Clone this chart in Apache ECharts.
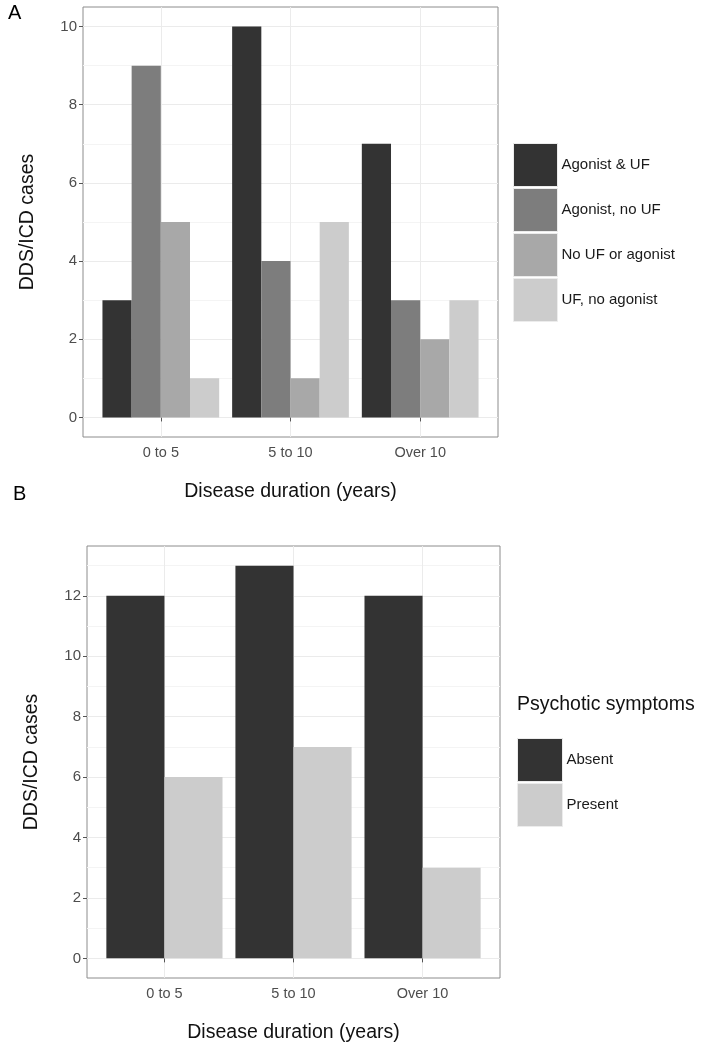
<!DOCTYPE html>
<html>
<head>
<meta charset="utf-8">
<script src="https://cdn.jsdelivr.net/npm/echarts@6/dist/echarts.min.js"></script>
<style>
  html, body { margin: 0; padding: 0; background: #fff; }
  #chart { width: 703px; height: 1050px; }
</style>
</head>
<body>
<div id="chart"></div>
<script>
// categories and values
var durations = ["0 to 5", "5 to 10", "Over 10"];

// panel A: treatment groups
var groupsA = ["Agonist & UF", "Agonist, no UF", "No UF or agonist", "UF, no agonist"];
var valuesA = [
    [3, 10, 7],
    [9, 4, 3],
    [5, 1, 2],
    [1, 5, 3]
];
var coloursA = ["#333333", "#7d7d7d", "#a8a8a8", "#cccccc"];

// panel B: psychotic symptoms
var groupsB = ["Absent", "Present"];
var valuesB = [
    [12, 13, 12],
    [6, 7, 3]
];
var coloursB = ["#333333", "#cccccc"];

var ticksA = [0, 2, 4, 6, 8, 10];
var minorA = [1, 3, 5, 7, 9];
var ticksB = [0, 2, 4, 6, 8, 10, 12];
var minorB = [1, 3, 5, 7, 9, 11, 13];
var xTicks = [1, 2, 3];

var font = "Liberation Sans, Arial, sans-serif";
var gridLine = "#ebebeb";
var minorLine = "#f4f4f4";

function xAxisFor(gridIndex) {
    return {
        type: "value",
        gridIndex: gridIndex,
        min: 0.4,
        max: 3.6,
        name: "Disease duration (years)",
        nameLocation: "middle",
        nameGap: 45,
        nameTextStyle: { fontSize: 19.5, color: "#111", fontFamily: font },
        axisLine: { show: false },
        axisTick: { show: true, customValues: xTicks, length: 4, lineStyle: { color: "#555" } },
        axisLabel: {
            customValues: xTicks,
            margin: 8,
            fontSize: 14.5,
            color: "#4d4d4d",
            fontFamily: font,
            formatter: function (v) { return durations[Math.round(v) - 1]; }
        },
        splitLine: { show: true, lineStyle: { color: gridLine, width: 1 } }
    };
}

function yAxisFor(gridIndex, lo, hi, ticks) {
    return {
        type: "value",
        gridIndex: gridIndex,
        min: lo,
        max: hi,
        name: "DDS/ICD cases",
        nameLocation: "middle",
        nameGap: 45,
        nameTextStyle: { fontSize: 19.5, color: "#111", fontFamily: font },
        axisLine: { show: false },
        axisTick: { show: true, customValues: ticks, length: 4, lineStyle: { color: "#555" } },
        axisLabel: { customValues: ticks, margin: 6, fontSize: 15, color: "#4d4d4d", fontFamily: font },
        splitLine: { show: true, lineStyle: { color: gridLine, width: 1 } }
    };
}

// extra hidden y axis that only draws the lighter minor grid lines
function minorAxisFor(gridIndex, lo, hi, ticks) {
    return {
        type: "value",
        gridIndex: gridIndex,
        min: lo,
        max: hi,
        axisLine: { show: false },
        axisTick: { show: false, customValues: ticks },
        axisLabel: { show: false, customValues: ticks },
        splitLine: { show: true, lineStyle: { color: minorLine, width: 1 } }
    };
}

var series = [];
groupsA.forEach(function (name, i) {
    series.push({
        name: name,
        type: "bar",
        xAxisIndex: 0,
        yAxisIndex: 0,
        barWidth: "22.5%",
        barGap: "0%",
        itemStyle: { color: coloursA[i] },
        data: durations.map(function (d, j) { return [j + 1, valuesA[i][j]]; })
    });
});
groupsB.forEach(function (name, i) {
    series.push({
        name: name,
        type: "bar",
        xAxisIndex: 1,
        yAxisIndex: 1,
        barWidth: "45%",
        barGap: "0%",
        itemStyle: { color: coloursB[i] },
        data: durations.map(function (d, j) { return [j + 1, valuesB[i][j]]; })
    });
});

var chart = echarts.init(document.getElementById("chart"), null, { renderer: "canvas" });
var option = {
    backgroundColor: "#fff",
    animation: false,
    title: [
        { text: "A", left: 8, top: 3, padding: 0, textStyle: { fontSize: 20, fontWeight: "normal", color: "#000", fontFamily: font } },
        { text: "B", left: 13, top: 484, padding: 0, textStyle: { fontSize: 20, fontWeight: "normal", color: "#000", fontFamily: font } },
        { text: "Psychotic symptoms", left: 517, top: 695, padding: 0, textStyle: { fontSize: 19.5, fontWeight: "normal", color: "#111", fontFamily: font } }
    ],
    grid: [
        { left: 83, top: 7, right: 205, bottom: 613, show: true, borderColor: "#8c8c8c", borderWidth: 1, backgroundColor: "#fff" },
        { left: 87, top: 546, right: 203, bottom: 72, show: true, borderColor: "#8c8c8c", borderWidth: 1, backgroundColor: "#fff" }
    ],
    xAxis: [xAxisFor(0), xAxisFor(1)],
    yAxis: [
        yAxisFor(0, -0.5, 10.5, ticksA),
        yAxisFor(1, -0.65, 13.65, ticksB),
        minorAxisFor(0, -0.5, 10.5, minorA),
        minorAxisFor(1, -0.65, 13.65, minorB)
    ],
    legend: [
        {
            data: groupsA,
            orient: "vertical",
            left: 513,
            top: 143,
            padding: 0,
            icon: "rect",
            itemWidth: 44,
            itemHeight: 43,
            itemGap: 1,
            selectedMode: false,
            itemStyle: { borderColor: "#ececec", borderWidth: 1 },
            textStyle: { fontSize: 15, color: "#1a1a1a", fontFamily: font, padding: [0, 0, 0, -1] }
        },
        {
            data: groupsB,
            orient: "vertical",
            left: 517,
            top: 738,
            padding: 0,
            icon: "rect",
            itemWidth: 45,
            itemHeight: 43,
            itemGap: 1,
            selectedMode: false,
            itemStyle: { borderColor: "#ececec", borderWidth: 1 },
            textStyle: { fontSize: 15, color: "#1a1a1a", fontFamily: font, padding: [0, 0, 0, -1] }
        }
    ],
    series: series
};
chart.setOption(option);

window.onresize = function () {
    chart.resize();
};
</script>
</body>
</html>
